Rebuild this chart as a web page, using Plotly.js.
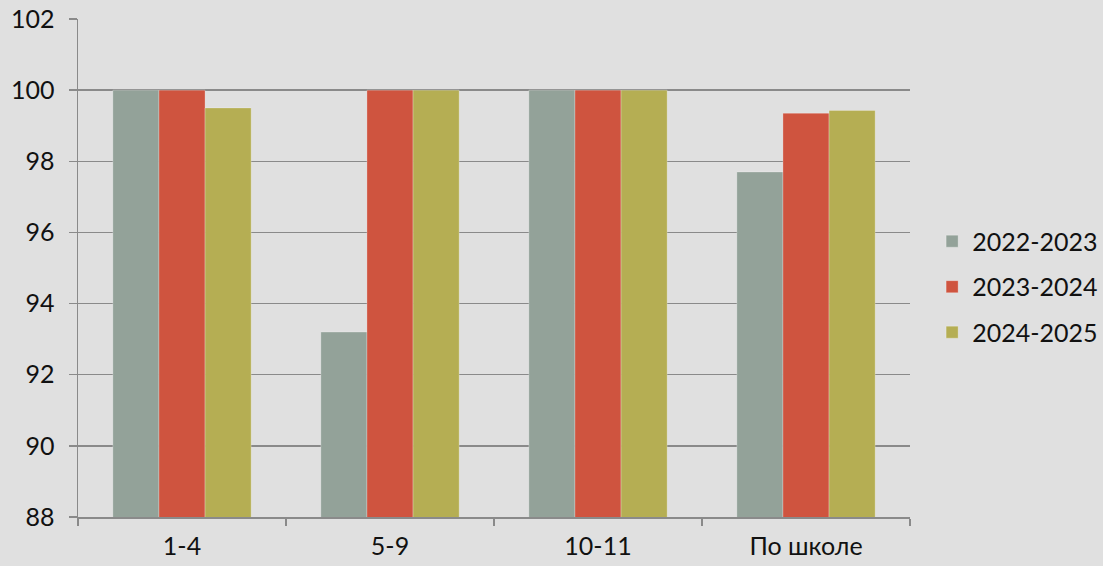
<!DOCTYPE html>
<html>
<head>
<meta charset="utf-8">
<script src="https://cdn.plot.ly/plotly-3.0.1.min.js"></script>
<style>
html,body{margin:0;padding:0;background:#e0e0e0;}
#chart{width:1103px;height:566px;}
</style>
</head>
<body>
<div id="chart"></div>
<script>
const categories = ["1-4", "5-9", "10-11", "По школе"];
const seriesNames = ["2022-2023", "2023-2024", "2024-2025"];
const values2022 = [100, 93.2, 100, 97.7];
const values2023 = [100, 100, 100, 99.35];
const values2024 = [99.5, 100, 100, 99.43];
const colors = ["#93a299", "#cf543f", "#b5ae53"];
const yTicks = [88, 90, 92, 94, 96, 98, 100, 102];

const allValues = [values2022, values2023, values2024];
const traces = allValues.map((v, i) => ({
  type: "bar",
  name: seriesNames[i],
  legendgroup: "g" + i,
  x: categories,
  y: v,
  marker: {color: colors[i], line: {color: "rgba(255,255,255,0.25)", width: 1}},
  hoverinfo: "none"
}));

const fontFam = "'Lato', 'Open Sans', sans-serif";
const layout = {
  width: 1103, height: 566,
  paper_bgcolor: "#e0e0e0",
  plot_bgcolor: "#e0e0e0",
  margin: {l: 78, r: 193, t: 19, b: 49, autoexpand: false},
  barmode: "group",
  bargap: 0.335,
  bargroupgap: 0,
  font: {family: fontFam, size: 25, color: "#111"},
  xaxis: {
    type: "category",
    showline: true, linecolor: "#8a8a8a", linewidth: 1.5,
    ticks: "outside", tickson: "boundaries", ticklen: 7, tickcolor: "#8a8a8a", tickwidth: 1.5,
    ticklabelstandoff: 6,
    showgrid: false, zeroline: false,
    tickfont: {family: fontFam, size: 25, color: "#111"}
  },
  yaxis: {
    range: [88, 102],
    tickvals: yTicks,
    ticktext: yTicks.map(String),
    showline: true, linecolor: "#8a8a8a", linewidth: 1.5,
    ticks: "outside", ticklen: 8, tickcolor: "#8a8a8a", tickwidth: 1.5,
    ticklabelstandoff: 9,
    showgrid: true, gridcolor: "#8a8a8a", gridwidth: 1.3,
    zeroline: false,
    tickfont: {family: fontFam, size: 25, color: "#111"}
  },
  legend: {
    x: 1.0266, y: 0.462, xanchor: "left", yanchor: "middle",
    font: {family: fontFam, size: 25, color: "#111"},
    bgcolor: "rgba(0,0,0,0)",
    tracegroupgap: 10,
    traceorder: "grouped"
  },
  showlegend: true
};

Plotly.newPlot("chart", traces, layout, {staticPlot: true, displayModeBar: false});
</script>
</body>
</html>
